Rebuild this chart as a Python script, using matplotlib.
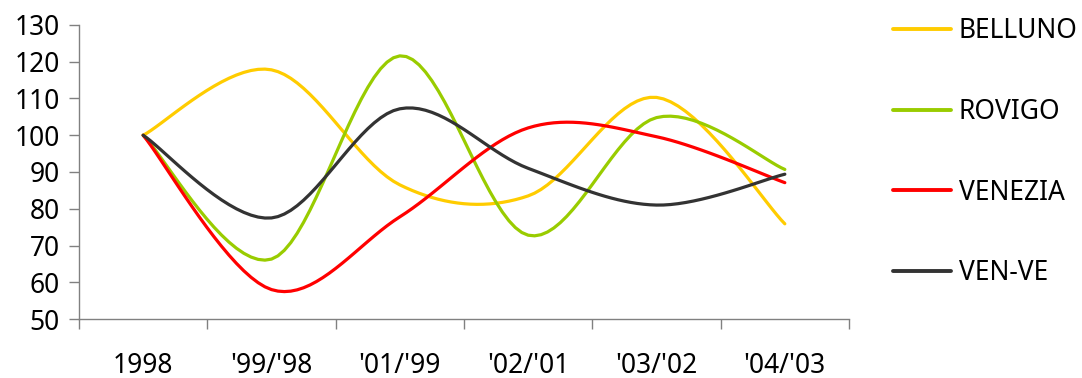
import numpy as np
import matplotlib
matplotlib.use("Agg")
import matplotlib.pyplot as plt

categorie = ["1998", "'99/'98", "'01/'99", "'02/'01", "'03/'02", "'04/'03"]
belluno = [100, 117.8, 86.5, 83.5, 110.3, 75.9]
rovigo = [100, 66.3, 121.6, 72.8, 104.8, 90.7]
venezia = [100, 58.0, 77.8, 102.0, 99.6, 87.1]
ven_ve = [100, 77.5, 107.2, 91.0, 81.0, 89.4]

serie = [("BELLUNO", belluno, "#FFCC00"),
         ("ROVIGO", rovigo, "#99CC00"),
         ("VENEZIA", venezia, "#FF0000"),
         ("VEN-VE", ven_ve, "#333333")]


def curva_liscia(y, passi=20):
    # smoothing stile Excel (bezier con tangenti catmull-rom)
    x = np.arange(len(y), dtype=float)
    y = np.asarray(y, dtype=float)
    px, py = [], []
    n = len(y)
    for i in range(n - 1):
        i0, i3 = max(i - 1, 0), min(i + 2, n - 1)
        c1x = x[i] + (x[i + 1] - x[i0]) / 6
        c1y = y[i] + (y[i + 1] - y[i0]) / 6
        c2x = x[i + 1] - (x[i3] - x[i]) / 6
        c2y = y[i + 1] - (y[i3] - y[i]) / 6
        t = np.linspace(0, 1, passi, endpoint=(i == n - 2))
        px.extend((1 - t) ** 3 * x[i] + 3 * (1 - t) ** 2 * t * c1x + 3 * (1 - t) * t ** 2 * c2x + t ** 3 * x[i + 1])
        py.extend((1 - t) ** 3 * y[i] + 3 * (1 - t) ** 2 * t * c1y + 3 * (1 - t) * t ** 2 * c2y + t ** 3 * y[i + 1])
    return px, py


plt.rcParams['font.family'] = ['Noto Sans', 'DejaVu Sans']
fig = plt.figure(figsize=(10.82, 3.78), dpi=100)
ax = fig.add_axes([79 / 1082, 1 - 319 / 378, (849 - 79) / 1082, (319 - 25) / 378])

for nome, valori, colore in serie:
    xs, ys = curva_liscia(valori)
    ax.plot(xs, ys, color=colore, lw=2.3, label=nome, solid_capstyle='round')

ax.set_xlim(-0.5, len(categorie) - 0.5)
ax.set_ylim(50, 130)
ax.set_yticks(np.arange(50, 131, 10))
ax.set_xticks(np.arange(-0.5, len(categorie), 1))
ax.set_xticklabels([])
ax.set_xticks(np.arange(len(categorie)), minor=True)
ax.set_xticklabels(categorie, minor=True)
ax.tick_params(axis='x', which='major', direction='out', length=7, width=1, color='#808080')
ax.tick_params(axis='x', which='minor', length=0, pad=23.5, labelsize=19)
ax.tick_params(axis='y', direction='out', length=7, width=1, color='#808080', pad=7, labelsize=19)

for s in ['top', 'right']:
    ax.spines[s].set_visible(False)
for s in ['left', 'bottom']:
    ax.spines[s].set_color('#808080')
    ax.spines[s].set_linewidth(1)

leg = ax.legend(loc='upper left', bbox_to_anchor=(893 / 1082, 1 - 17 / 378),
                bbox_transform=fig.transFigure, frameon=False, fontsize=19,
                handlelength=2.2, handletextpad=0.3, labelspacing=2.0,
                borderpad=0, borderaxespad=0)
for linea in leg.get_lines():
    linea.set_linewidth(2.8)

fig.savefig("out.png", dpi=100)
